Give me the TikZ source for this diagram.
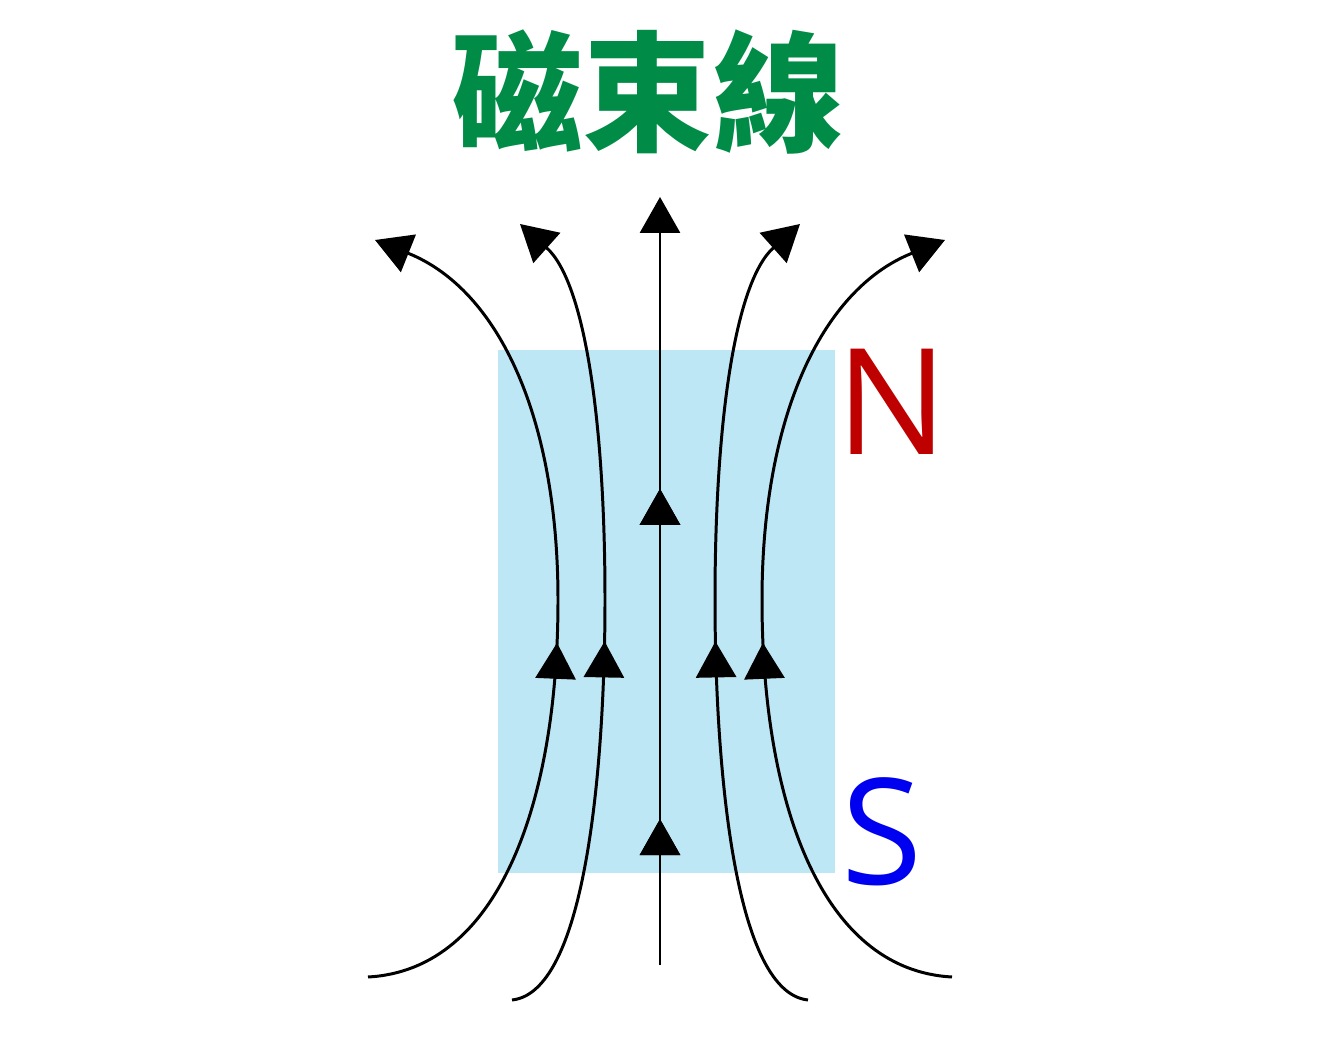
\documentclass[tikz,border=0pt]{standalone}
\usepackage{fontspec}
\setsansfont{Open Sans}
\newfontfamily\cjk{Noto Sans CJK TC}
\usetikzlibrary{arrows.meta,decorations.markings}
\definecolor{magnet}{RGB}{190,231,246}
\definecolor{titlegreen}{RGB}{0,140,70}
\definecolor{northred}{RGB}{190,0,0}
\definecolor{southblue}{RGB}{0,0,240}
\tikzset{
  fieldline/.style={line width=0.85pt, -{Triangle[width=0.4cm,length=0.36cm]}},
  midarrow/.style={postaction={decorate}, decoration={markings,
      mark=at position #1 with {\arrow{Triangle[width=0.4cm,length=0.36cm]}}}}
}
\begin{document}
\begin{tikzpicture}
  \useasboundingbox (0,0) rectangle (13.33,10.42);
  % magnet body
  \fill[magnet] (4.98,1.69) rectangle (8.35,6.92);
  \node[text=titlegreen, font=\cjk\bfseries\fontsize{37}{40}\selectfont] (title) at (6.48,9.5) {磁束線};
  \node[text=northred, font=\sffamily\fontsize{42}{44}\selectfont] (north) at (8.92,6.4) {N};
  \node[text=southblue, font=\sffamily\fontsize{42}{44}\selectfont] (south) at (8.82,2.1) {S};
  % centre line
  \draw[fieldline, midarrow=0.62, midarrow=0.19] (6.6,0.77) -- (6.6,8.45);
  % side lines
  \foreach \s in {1,-1} {
    \draw[fieldline, midarrow=0.47]
      ({6.6-\s*2.92},0.65) .. controls ({6.6-\s*1.6},0.72) and ({6.6-\s*1.02},2.42) .. ({6.6-\s*1.02},4.42)
      .. controls ({6.6-\s*1.02},6.22) and ({6.6-\s*1.6},7.52) .. ({6.6-\s*2.85},8.02);
    \draw[fieldline, midarrow=0.47]
      ({6.6-\s*1.48},0.42) .. controls ({6.6-\s*0.7},0.5) and ({6.6-\s*0.55},3.0) .. ({6.6-\s*0.55},4.42)
      .. controls ({6.6-\s*0.55},6.2) and ({6.6-\s*0.75},7.6) .. ({6.6-\s*1.4},8.18);
  }
\end{tikzpicture}
\end{document}
